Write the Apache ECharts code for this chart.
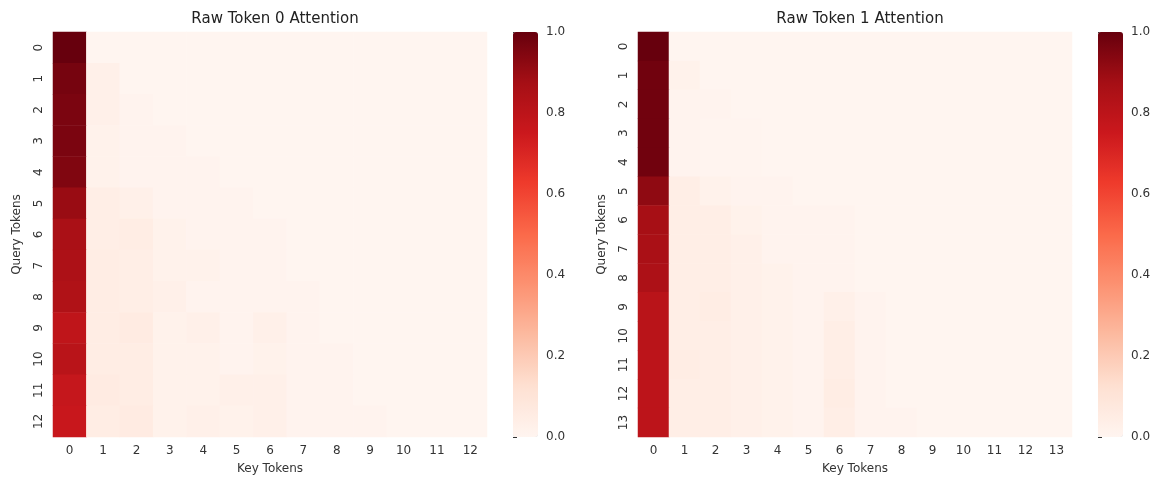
<!DOCTYPE html>
<html><head><meta charset="utf-8">
<script src="https://cdn.jsdelivr.net/npm/echarts@6/dist/echarts.min.js"></script>
<style>html,body{margin:0;background:#fff}#c{width:1160px;height:490px}</style>
</head><body><div id="c"></div>
<script>
// attention rows (query x key), missing entries are 0
var rawToken0 = [
  [1.0],
  [0.97,0.03],
  [0.96,0.03,0.01],
  [0.96,0.02,0.01,0.01],
  [0.95,0.02,0.01,0.01,0.01],
  [0.90,0.04,0.03,0.01,0.01,0.01],
  [0.86,0.04,0.05,0.02,0.01,0.01,0.01],
  [0.85,0.05,0.04,0.02,0.02,0.01,0.01,0],
  [0.84,0.05,0.04,0.03,0.01,0.01,0.01,0.01],
  [0.79,0.05,0.06,0.02,0.03,0.01,0.03,0.01],
  [0.81,0.05,0.05,0.02,0.02,0.01,0.02,0.01,0.01],
  [0.77,0.06,0.05,0.02,0.02,0.03,0.03,0.01,0.01],
  [0.76,0.05,0.06,0.02,0.03,0.02,0.03,0.01,0.01,0.01]
];
var rawToken1 = [
  [1.0],
  [0.98,0.02],
  [0.98,0.01,0.01],
  [0.98,0.01,0.005,0.005],
  [0.98,0.01,0.005,0.005],
  [0.92,0.04,0.02,0.01,0.01],
  [0.87,0.04,0.04,0.02,0.01,0.01,0.01],
  [0.86,0.04,0.04,0.03,0.01,0.01,0.01],
  [0.85,0.04,0.04,0.03,0.02,0.01,0.01],
  [0.81,0.04,0.05,0.03,0.02,0.01,0.03,0.01],
  [0.81,0.04,0.04,0.03,0.02,0.01,0.04,0.01],
  [0.80,0.05,0.04,0.03,0.02,0.01,0.04,0.01],
  [0.80,0.04,0.04,0.03,0.02,0.01,0.05,0.01],
  [0.80,0.04,0.04,0.03,0.02,0.01,0.04,0.01,0.01]
];
var titles = ['Raw Token 0 Attention','Raw Token 1 Attention'];
var colorbarTicks = [0, 0.2, 0.4, 0.6, 0.8, 1.0];
var reds = ['#fff5f0','#fee0d2','#fcbba1','#fc9272','#fb6a4a','#ef3b2c','#cb181d','#a50f15','#67000d'];

function toCells(m){
  var n = m.length, out = [];
  for (var y = 0; y < n; y++) for (var x = 0; x < n; x++) out.push([x, y, m[y][x] || 0]);
  return out;
}
function cats(n){ var a=[]; for(var i=0;i<n;i++) a.push(String(i)); return a; }

var mats = [rawToken0, rawToken1];
var lefts = [53, 638];
var font = 'DejaVu Sans';
var lab = {color:'#333', fontSize:12, fontFamily:font};
var grid=[], xAxis=[], yAxis=[], series=[], visualMap=[], title=[];
mats.forEach(function(m, i){
  var L = lefts[i];
  grid.push({left:L, top:32, width:434, height:405});
  grid.push({left:L+460, top:32, width:25, height:405});
  title.push({text:titles[i], left:L+217, top:7, textAlign:'center',
    textStyle:{fontSize:15, fontWeight:'normal', color:'#222', fontFamily:font}});
  xAxis.push({type:'category', gridIndex:2*i, data:cats(m.length), name:'Key Tokens',
    nameLocation:'middle', nameGap:26, nameTextStyle:lab, axisLabel:lab,
    axisLine:{show:false}, axisTick:{alignWithLabel:true, length:4, lineStyle:{color:'#333'}}, splitArea:{show:false}});
  yAxis.push({type:'category', gridIndex:2*i, data:cats(m.length), inverse:true, name:'Query Tokens',
    nameLocation:'middle', nameGap:30, nameTextStyle:lab, axisLabel:Object.assign({rotate:90}, lab),
    axisLine:{show:false}, axisTick:{alignWithLabel:true, length:4, lineStyle:{color:'#333'}}, splitArea:{show:false}});
  xAxis.push({type:'value', gridIndex:2*i+1, show:false, min:0, max:1});
  yAxis.push({type:'value', gridIndex:2*i+1, min:0, max:1, interval:0.2, position:'right',
    axisLabel:Object.assign({formatter:function(v){return v.toFixed(1);}}, lab),
    axisLine:{show:false}, axisTick:{show:true, length:4, lineStyle:{color:'#333'}}, splitLine:{show:false}});
  series.push({type:'heatmap', xAxisIndex:2*i, yAxisIndex:2*i, data:toCells(m), itemStyle:{borderWidth:0}});
  series.push({type:'scatter', xAxisIndex:2*i+1, yAxisIndex:2*i+1, data:[], silent:true});
  visualMap.push({type:'continuous', min:0, max:1, seriesIndex:2*i, inRange:{color:reds},
    left:L+460, top:32, itemWidth:25, itemHeight:405, padding:0, calculable:false,
    text:['',''], showLabel:false, textStyle:{fontSize:0}});
});

var chart = echarts.init(document.getElementById('c'));
chart.setOption({backgroundColor:'#fff', animation:false, title:title, grid:grid,
  xAxis:xAxis, yAxis:yAxis, visualMap:visualMap, series:series});
</script></body></html>
